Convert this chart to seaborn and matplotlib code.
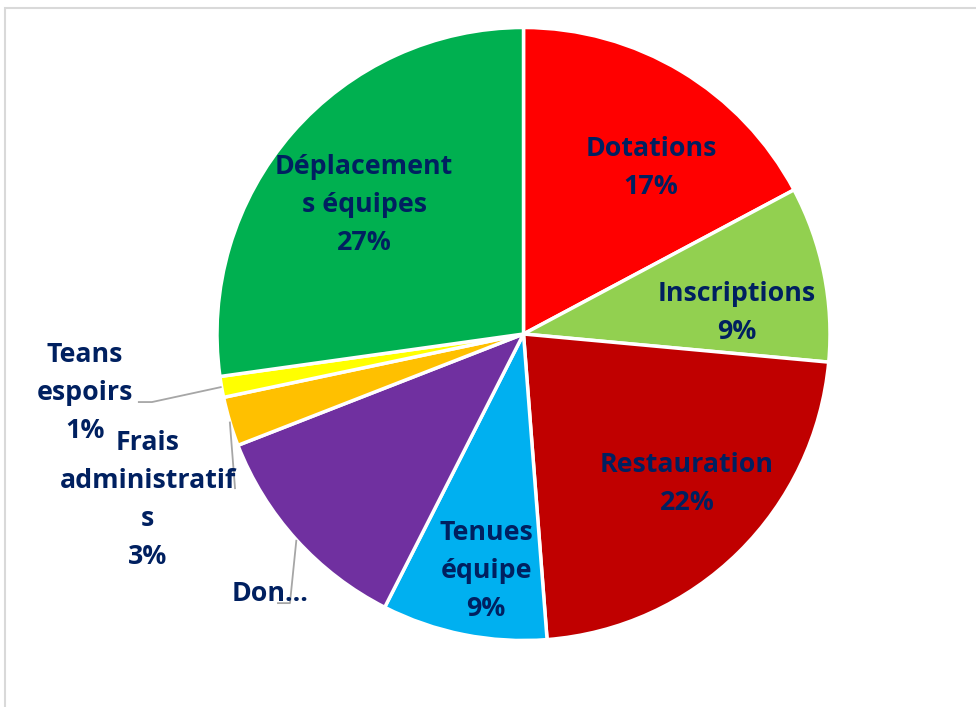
import numpy as np
import matplotlib
matplotlib.use("Agg")
import matplotlib.pyplot as plt
import seaborn as sns
from matplotlib.patches import Rectangle

# ---- data ----
categories = ["Dotations", "Inscriptions", "Restauration", "Tenues équipe",
              "Don", "Frais administratifs", "Teans espoirs", "Déplacements équipes"]
display_names = ["Dotations", "Inscriptions", "Restauration", "Tenues\néquipe",
                 "Don…", "Frais\nadministratif\ns", "Teans\nespoirs", "Déplacement\ns équipes"]
values = [17.2, 9.25, 22.3, 8.7, 11.6, 2.6, 1.1, 27.2]
show_pct = [True, True, True, True, False, True, True, True]

# ---- style ----
colors = ["#FF0000", "#92D050", "#C00000", "#00B0F0",
          "#7030A0", "#FFC000", "#FFFF00", "#00B050"]
text_color = "#002060"
# label centres in pie-radius units
label_pos = [(0.416, 0.540), (0.697, 0.070), (0.533, -0.490), (-0.122, -0.772),
             (-0.827, -0.848), (-1.226, -0.540), (-1.431, -0.192), (-0.520, 0.422)]
# leader line elbows (None = inside label)
leader_pts = [None, None, None, None,
              [(-0.762, -0.878), (-0.804, -0.878)],
              [(-0.941, -0.506)],
              [(-1.212, -0.222), (-1.258, -0.222)],
              None]

sns.set_theme(style="white")
plt.rcParams["font.family"] = ["Open Sans", "DejaVu Sans"]

W, H = 976, 707
fig = plt.figure(figsize=(W / 100, H / 100), dpi=100)
ax = fig.add_axes([0, 0, 1, 1])
cx, cy, R = 523.5, 334.0, 306.5
ax.axis("off")

wedges, _ = ax.pie(values, colors=colors, startangle=90, counterclock=False,
                   radius=1.0, center=(0, 0),
                   wedgeprops=dict(edgecolor="white", linewidth=2.5))
ax.set_xlim(-cx / R, (W - cx) / R)
ax.set_ylim((cy - H) / R, cy / R)
ax.set_aspect("auto")

total = sum(values)
for w, name, v, sp, (lx, ly), lp in zip(wedges, display_names, values, show_pct,
                                          label_pos, leader_pts):
    txt = name + (f"\n{round(v / total * 100)}%" if sp else "")
    ax.text(lx, ly, txt, ha="center", va="center", color=text_color,
            fontsize=19.3, fontweight="bold", linespacing=1.6)
    if lp is not None:
        mid = np.deg2rad((w.theta1 + w.theta2) / 2)
        xs = [np.cos(mid)] + [p[0] for p in lp]
        ys = [np.sin(mid)] + [p[1] for p in lp]
        ax.plot(xs, ys, color="#A6A6A6", lw=1.3, solid_capstyle="butt")

# chart-area border
fig.patches.append(Rectangle((5 / W, -0.01), 1.0, 1 - 8 / H + 0.01,
                             transform=fig.transFigure, fill=False,
                             edgecolor="#D9D9D9", linewidth=1.5))

fig.savefig("out.png", dpi=100, facecolor="white")
